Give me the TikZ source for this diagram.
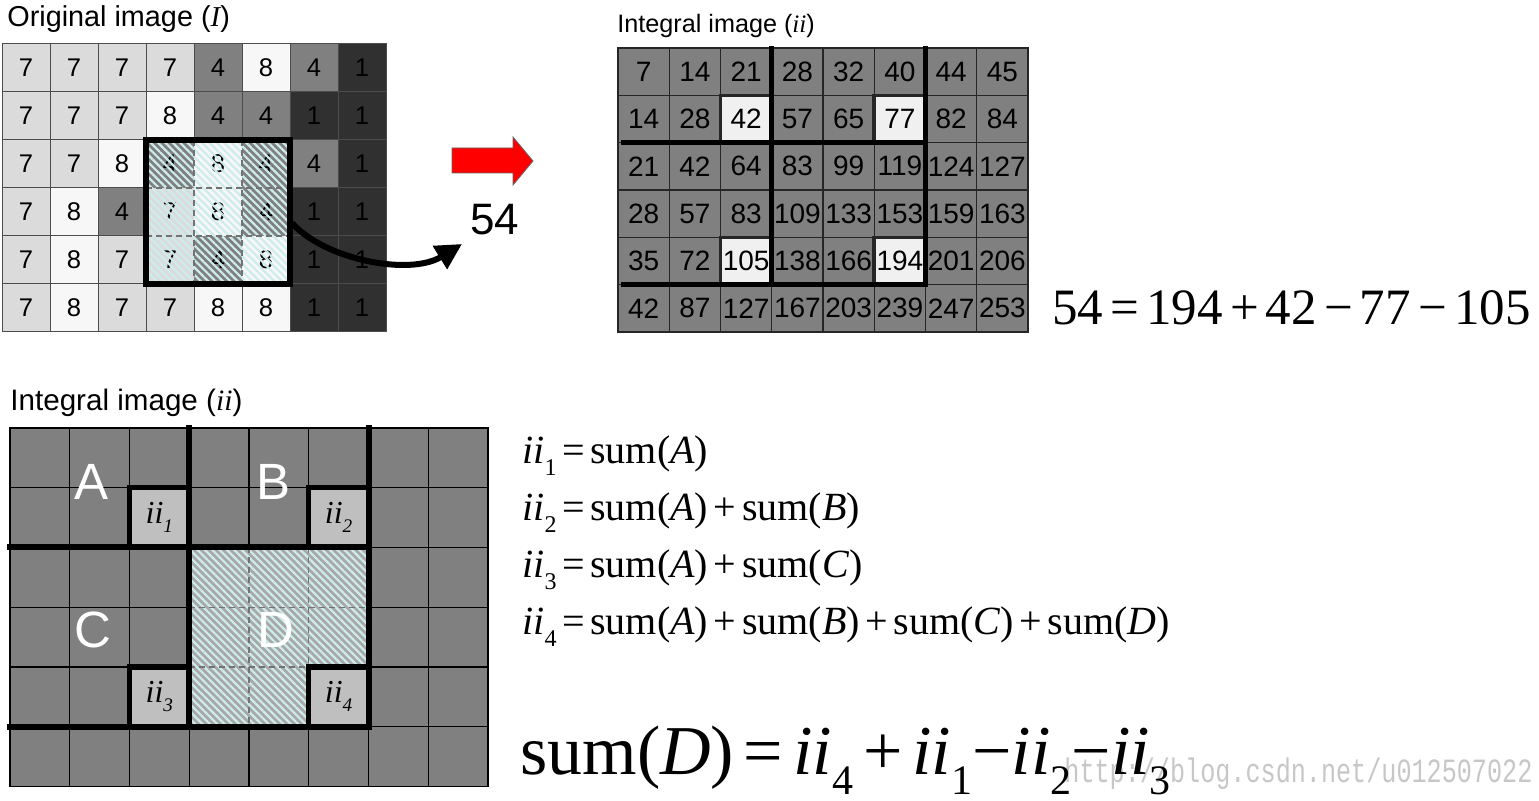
\documentclass[tikz,border=0pt]{standalone}
\usepackage{fontspec}
\setmainfont{Liberation Serif}
\setsansfont{Liberation Sans}
\newfontfamily\wmfont{Liberation Mono}
\usepackage{graphicx}
\usetikzlibrary{arrows.meta,patterns.meta}
\definecolor{col7}{gray}{0.86}
\definecolor{col8}{gray}{0.97}
\definecolor{col4}{gray}{0.50}
\definecolor{col1}{gray}{0.19}
\definecolor{gmid}{gray}{0.50}
\definecolor{hlc}{gray}{0.94}
\definecolor{iig}{gray}{0.75}
\definecolor{dbase}{gray}{0.66}
\definecolor{hatchc}{RGB}{205,236,236}
\newcommand{\sbs}[1]{\raisebox{-0.28em}{\scalebox{0.6}{#1}}}
\newcommand{\op}[1]{\hspace{0.14em}#1\hspace{0.14em}}
\begin{document}
\begin{tikzpicture}[x=0.5pt,y=-0.5pt,
  ocell/.style={minimum width=24pt,minimum height=24pt,inner sep=0pt,outer sep=0pt,line width=0.5pt,font=\sffamily\fontsize{12.8}{14}\selectfont},
  icell/.style={minimum width=25.625pt,minimum height=23.67pt,inner sep=0pt,outer sep=0pt,font=\sffamily\fontsize{14}{16}\selectfont},
  bcell/.style={minimum width=29.875pt,minimum height=29.875pt,inner sep=0pt,outer sep=0pt,draw=black,line width=0.7pt,fill=gmid},
  iicell/.style={bcell,fill=iig,line width=2.6pt,font=\rmfamily\itshape\fontsize{16}{18}\selectfont},
  bigline/.style={line width=3pt,line cap=rect},
  midline/.style={line width=2.4pt,line cap=rect},
  dashline/.style={dash pattern=on 3pt off 2pt,line width=0.6pt,draw=black!55},
  lbl/.style={inner sep=0pt,anchor=base west},
  letter/.style={inner sep=0pt,text=white,font=\sffamily\fontsize{25.5}{28}\selectfont},
  hatch/.style={pattern={Lines[angle=-45,distance=2.6pt,line width=1.1pt]},pattern color=hatchc}
]
\useasboundingbox (0,0) rectangle (1539,801);
\fill[white] (0,0) rectangle (1539,801);

% ---------- Original image ----------
\node[lbl,font=\sffamily\fontsize{14.4}{16}\selectfont] (titleO) at (7,27) {Original image ({\rmfamily\itshape I})};
\foreach \rowvals [count=\r from 0] in {{7,7,7,7,4,8,4,1},{7,7,7,8,4,4,1,1},{7,7,8,4,8,4,4,1},{7,8,4,7,8,4,1,1},{7,8,7,7,4,8,1,1},{7,8,7,7,8,8,1,1}}{
  \foreach \v [count=\c from 0] in \rowvals {
    \pgfmathtruncatemacro\inb{(\r>1)&&(\r<5)&&(\c>2)&&(\c<6)}
    \ifnum\inb=1 \def\bcol{none}\else\def\bcol{black!70}\fi
    \node[ocell,fill=col\v,draw=\bcol] (o-\r-\c) at ({26+48*\c},{68+48*\r}) {\v};
  }
}
\fill[hatch,fill opacity=0.85] (o-2-3.north west) rectangle (o-4-5.south east);
\draw[dashline] (o-2-4.north west) -- (o-4-4.south west);
\draw[dashline] (o-2-5.north west) -- (o-4-5.south west);
\draw[dashline] (o-3-3.north west) -- (o-3-5.north east);
\draw[dashline] (o-4-3.north west) -- (o-4-5.north east);
\draw[line width=3pt] (o-2-3.north west) rectangle (o-4-5.south east);

% curved arrow and value
\coordinate (arrS) at (292,223);
\coordinate (arrE) at (462,244);
\draw[line width=3pt,-{Triangle[length=13pt,width=13pt]}] (arrS) .. controls (325,260) and (410,276) .. (arrE);
\node[lbl,font=\sffamily\fontsize{22}{26}\selectfont] (v54) at (470,235) {54};

% red block arrow
\draw[fill=red,draw=black!60,line width=0.4pt] (452,148) -- (513,148) -- (513,137) -- (533,161) -- (513,185) -- (513,173) -- (452,173) -- cycle;

% ---------- Integral image (top) ----------
\node[lbl,font=\sffamily\fontsize{12.6}{14}\selectfont] (titleT) at (617,33) {Integral image ({\rmfamily\itshape ii})};
\foreach \rowvals [count=\r from 0] in {{7,14,21,28,32,40,44,45},{14,28,42,57,65,77,82,84},{21,42,64,83,99,119,124,127},{28,57,83,109,133,153,159,163},{35,72,105,138,166,194,201,206},{42,87,127,167,203,239,247,253}}{
  \foreach \v [count=\c from 0] in \rowvals {
    \pgfmathtruncatemacro\hl{((\r==1)||(\r==4))&&((\c==2)||(\c==5))}
    \ifnum\hl=1 \def\fc{hlc}\def\lw{1.8pt}\else\def\fc{gmid}\def\lw{0.6pt}\fi
    \node[icell,fill=\fc,draw=black!85,line width=\lw] (t-\r-\c) at ({643.625+51.25*\c},{71.67+47.33*\r}) {\v};
  }
}
\draw[midline] (t-0-3.north west) -- (t-4-3.south west);
\draw[midline] (t-0-6.north west) -- (t-4-6.south west);
\draw[midline] ([xshift=2.5pt]t-2-0.north west) -- (t-2-6.north west);
\draw[midline] ([xshift=2.5pt]t-5-0.north west) -- (t-5-6.north west);
\node[lbl,font=\rmfamily\fontsize{25.5}{30}\selectfont] (eqtop) at (1052,325) {54\op{=}194\op{+}42\op{−}77\op{−}105};

% ---------- Integral image (bottom) ----------
\node[lbl,font=\sffamily\fontsize{14.8}{17}\selectfont] (titleB) at (10,411) {Integral image ({\rmfamily\itshape ii})};
\foreach \r in {0,...,5}{
  \foreach \c in {0,...,7}{
    \node[bcell] (b-\r-\c) at ({39.875+59.75*\c},{457.875+59.75*\r}) {};
  }
}
\fill[dbase] (b-2-3.north west) -- (b-2-5.north east) -- (b-3-5.south east) -- (b-4-4.south east) -- (b-4-3.south west) -- cycle;
\fill[hatch] (b-2-3.north west) -- (b-2-5.north east) -- (b-3-5.south east) -- (b-4-4.south east) -- (b-4-3.south west) -- cycle;
\draw[dashline] (b-2-4.north west) -- (b-4-4.south west);
\draw[dashline] (b-2-5.north west) -- (b-3-5.south west);
\draw[dashline] (b-3-3.north west) -- (b-3-5.north east);
\draw[dashline] (b-4-3.north west) -- (b-4-4.north east);
\node[iicell] (ii1) at (b-1-2) {ii\sbs{1}};
\node[iicell] (ii2) at (b-1-5) {ii\sbs{2}};
\node[iicell] (ii3) at (b-4-2) {ii\sbs{3}};
\node[iicell] (ii4) at (b-4-5) {ii\sbs{4}};
\draw[bigline] (b-0-3.north west) -- (b-4-3.south west);
\draw[bigline] (b-0-6.north west) -- (b-4-6.south west);
\draw[bigline] (b-2-0.north west) -- (b-2-6.north west);
\draw[bigline] (b-5-0.north west) -- (b-5-6.north west);
\node[letter] (lA) at (92,482) {A};
\node[letter] (lB) at (274,482) {B};
\node[letter] (lC) at (93,630) {C};
\node[letter] (lD) at (276,630) {D};

% ---------- equations ----------
\node[lbl,font=\rmfamily\fontsize{20}{24}\selectfont] (eq1) at (522,464) {\textit{ii}\sbs{1}\op{=}sum(\textit{A})};
\node[lbl,font=\rmfamily\fontsize{20}{24}\selectfont] (eq2) at (522,521) {\textit{ii}\sbs{2}\op{=}sum(\textit{A})\op{+}sum(\textit{B})};
\node[lbl,font=\rmfamily\fontsize{20}{24}\selectfont] (eq3) at (522,578) {\textit{ii}\sbs{3}\op{=}sum(\textit{A})\op{+}sum(\textit{C})};
\node[lbl,font=\rmfamily\fontsize{20}{24}\selectfont] (eq4) at (522,635) {\textit{ii}\sbs{4}\op{=}sum(\textit{A})\op{+}sum(\textit{B})\op{+}sum(\textit{C})\op{+}sum(\textit{D})};
\node[lbl,text=black!22] (wm) at (1064,783) {\scalebox{0.74}[1]{\wmfont\fontsize{17}{19}\selectfont http://blog.csdn.net/u012507022}};
\node[lbl,font=\rmfamily\fontsize{35}{40}\selectfont] (eq5) at (520,775) {sum(\textit{D})\op{=}\textit{ii}\sbs{4}\op{+}\textit{ii}\sbs{1}−\textit{ii}\sbs{2}−\textit{ii}\sbs{3}};
\end{tikzpicture}
\end{document}
